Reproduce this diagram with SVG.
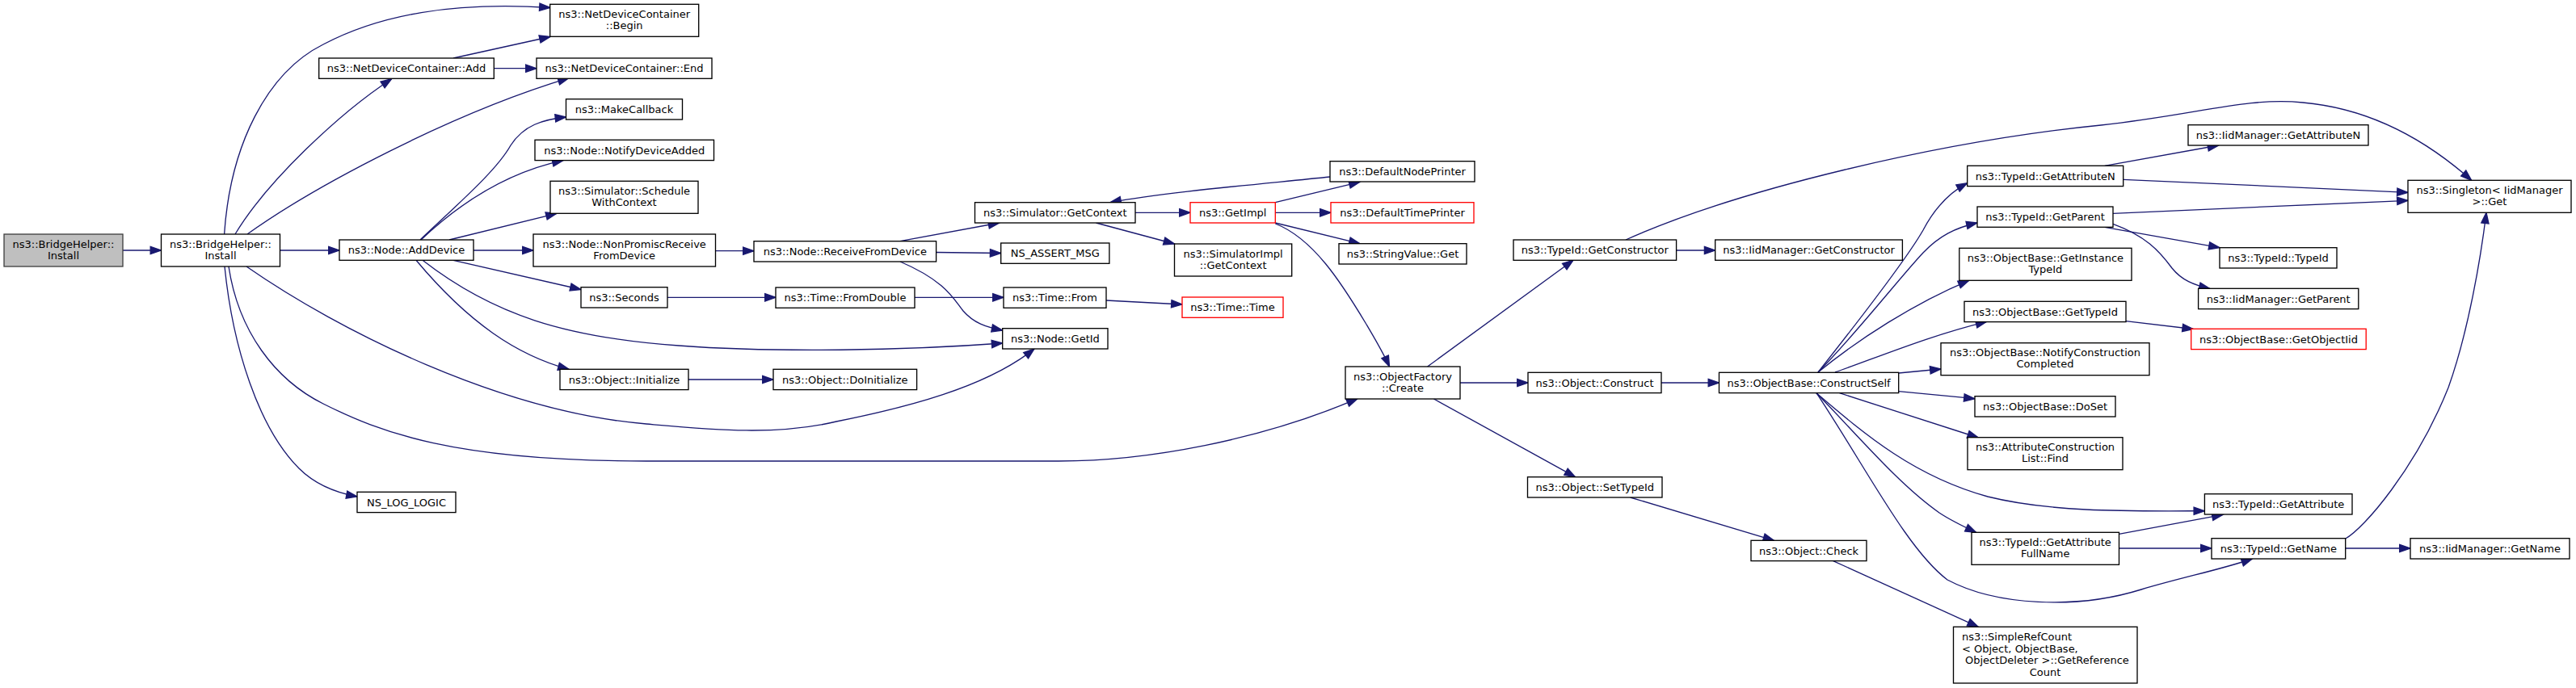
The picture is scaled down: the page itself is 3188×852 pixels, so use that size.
<svg xmlns="http://www.w3.org/2000/svg" width="3188" height="852" viewBox="0 0 3188 852">
<defs>
<style>
.n rect{fill:#ffffff;stroke:#000000;stroke-width:1.33}
.n.red rect{stroke:#ff0000}
.n.root rect{fill:#bfbfbf;stroke:#404040}
text{font-family:"DejaVu Sans","Liberation Sans",sans-serif;font-size:13px;text-anchor:middle;fill:#000000}
text.l{text-anchor:start}
#edges path{fill:none;stroke:#191970;stroke-width:1.33;marker-end:url(#arr)}
</style>
<marker id="arr" markerUnits="userSpaceOnUse" markerWidth="16" markerHeight="12" refX="13.3" refY="0" orient="auto" overflow="visible">
<path d="M0,-4.67L13.3,0L0,4.67z" fill="#191970" stroke="#191970" stroke-width="1.33"/>
</marker>
</defs>
<rect width="3188" height="852" fill="#ffffff"/>
<g id="edges">
<path d="M152,310L199.5,310"/>
<path d="M277.6,290C285,180 330,90 400,55C470,18 560,2 681,9.5"/>
<path d="M291,290C330,225 420,140 484.7,97.7"/>
<path d="M306,290C390,230 560,140 704,96.7"/>
<path d="M346.5,310L420,310"/>
<path d="M278,330C288,430 320,530 370,580C390,600 415,610 442,615"/>
<path d="M283,330C295,410 340,470 400,500C470,535 560,571 800,571L1310,571C1420,571 1560,545 1680,493.7"/>
<path d="M305,330C420,410 620,510 800,525C880,532 960,540 1035,522C1120,505 1220,480 1280,432"/>
<path d="M561,72L681,45.5"/>
<path d="M611.3,84.7L664,84.7"/>
<path d="M520,297C575,245 615,210 632,180C648,155 672,148 700.5,145"/>
<path d="M521,297C560,260 620,215 697,198.6"/>
<path d="M556,297L689,264.3"/>
<path d="M586,310L660,310"/>
<path d="M561,322.3L719,358.5"/>
<path d="M515,322.3C580,400 640,440 704,457.3"/>
<path d="M523,322.3C610,390 700,418 840,428C960,437 1120,434 1240.7,425"/>
<path d="M826,368.3L960,368.3"/>
<path d="M885.5,310.7L933,310.7"/>
<path d="M852,470L957,470"/>
<path d="M1114,298.7L1236.6,276"/>
<path d="M1158.6,312.5L1238.7,313.5"/>
<path d="M1114,324C1170,348 1180,370 1192,385C1205,400 1220,405 1240.7,409"/>
<path d="M1132,368.3L1242,368.3"/>
<path d="M1369,372L1463,377"/>
<path d="M1405,263.3L1473,263.3"/>
<path d="M1356.5,276L1453.5,302"/>
<path d="M1646,219C1560,228 1440,238 1374,250.7"/>
<path d="M1578.3,250.7L1683,225.3"/>
<path d="M1578.3,263.3L1647,263.3"/>
<path d="M1578.3,276L1683,301.7"/>
<path d="M1578.3,277C1625,295 1660,350 1690,400C1703,422 1712,437 1719.5,454"/>
<path d="M1766.6,454L1947,322.3"/>
<path d="M1807,474L1891,474"/>
<path d="M1774.4,494L1949.6,590.7"/>
<path d="M2056,474L2127.5,474"/>
<path d="M2017.6,616L2195.5,669.3"/>
<path d="M2268.7,694.6L2448.3,776.3"/>
<path d="M2074.6,310L2122.7,310"/>
<path d="M2012,297C2150,235 2400,175 2600,155C2720,142 2780,120 2850,127C2940,135 3010,180 3058.7,223.3"/>
<path d="M2250,461C2310,385 2360,320 2380,285C2392,262 2410,240 2434.7,226.7"/>
<path d="M2250,461C2300,410 2350,345 2380,313C2400,292 2420,282 2447,276"/>
<path d="M2250,461C2300,420 2370,375 2436.8,347.3"/>
<path d="M2271,461C2330,440 2390,415 2458.7,398.3"/>
<path d="M2349.7,462L2402,457"/>
<path d="M2349.7,484.7L2444,493.7"/>
<path d="M2276.5,486.7L2448.3,542"/>
<path d="M2248,486.7C2310,540 2370,590 2460,615C2540,635 2640,633 2728.4,632.7"/>
<path d="M2248,486.7C2300,540 2350,600 2400,635C2415,645 2430,652 2445.6,659.3"/>
<path d="M2248,486.7C2310,580 2360,680 2410,718C2470,750 2570,755 2650,730C2700,715 2750,705 2787.4,692"/>
<path d="M2604.8,205.3L2745.6,180"/>
<path d="M2627.7,222.3L2980,238.3"/>
<path d="M2615,264.3L2980,248.3"/>
<path d="M2604.8,281.3L2747,306.7"/>
<path d="M2615,277.3C2655,292 2672,310 2688,332C2700,347 2715,353 2735,357.5"/>
<path d="M2630.9,397.7L2714.3,407.5"/>
<path d="M2902.7,667C2925,655 2990,580 3030,480C3055,410 3070,320 3077,263.3"/>
<path d="M2622.5,661.3L2751,637.3"/>
<path d="M2622.5,679L2737,679"/>
<path d="M2902.7,679L2983,679"/>
</g>
<g id="n_root" class="n root"><rect x="5" y="290" width="147" height="40"/><text x="78.5" y="306.5">ns3::BridgeHelper::</text><text x="78.5" y="320.5">Install</text></g>
<g id="n_install" class="n"><rect x="199.5" y="290" width="147" height="40"/><text x="273" y="306.5">ns3::BridgeHelper::</text><text x="273" y="320.5">Install</text></g>
<g id="n_add" class="n"><rect x="394.7" y="72" width="216.6" height="25.3"/><text x="503" y="89.2">ns3::NetDeviceContainer::Add</text></g>
<g id="n_adddevice" class="n"><rect x="420" y="297" width="166" height="25.3"/><text x="503" y="314.2">ns3::Node::AddDevice</text></g>
<g id="n_nslog" class="n"><rect x="442" y="609.3" width="122" height="25.3"/><text x="503" y="626.5">NS_LOG_LOGIC</text></g>
<g id="n_begin" class="n"><rect x="680.7" y="5.3" width="184" height="40"/><text x="772.7" y="21.8">ns3::NetDeviceContainer</text><text x="772.7" y="35.8">::Begin</text></g>
<g id="n_end" class="n"><rect x="664" y="72" width="217" height="25.3"/><text x="772.5" y="89.2">ns3::NetDeviceContainer::End</text></g>
<g id="n_makecallback" class="n"><rect x="700.5" y="122.7" width="144" height="25.3"/><text x="772.5" y="139.9">ns3::MakeCallback</text></g>
<g id="n_notifydevice" class="n"><rect x="662" y="173.3" width="221.5" height="25.3"/><text x="772.7" y="190.5">ns3::Node::NotifyDeviceAdded</text></g>
<g id="n_schedule" class="n"><rect x="681" y="224.3" width="183" height="40"/><text x="772.5" y="240.8">ns3::Simulator::Schedule</text><text x="772.5" y="254.8">WithContext</text></g>
<g id="n_nonpromisc" class="n"><rect x="660" y="290" width="225.5" height="40"/><text x="772.7" y="306.5">ns3::Node::NonPromiscReceive</text><text x="772.7" y="320.5">FromDevice</text></g>
<g id="n_seconds" class="n"><rect x="719" y="355.7" width="107" height="25.3"/><text x="772.5" y="372.9">ns3::Seconds</text></g>
<g id="n_initialize" class="n"><rect x="693" y="457.3" width="159" height="25.3"/><text x="772.5" y="474.5">ns3::Object::Initialize</text></g>
<g id="n_receive" class="n"><rect x="933" y="298.7" width="225.6" height="25.3"/><text x="1045.8" y="315.9">ns3::Node::ReceiveFromDevice</text></g>
<g id="n_fromdouble" class="n"><rect x="960" y="356" width="172" height="25.3"/><text x="1046" y="373.2">ns3::Time::FromDouble</text></g>
<g id="n_doinitialize" class="n"><rect x="957" y="457.3" width="177.6" height="25.3"/><text x="1045.8" y="474.5">ns3::Object::DoInitialize</text></g>
<g id="n_simgetcontext" class="n"><rect x="1206.5" y="250.7" width="198.5" height="25.3"/><text x="1305.8" y="267.9">ns3::Simulator::GetContext</text></g>
<g id="n_assert" class="n"><rect x="1238.7" y="301" width="134.2" height="25.3"/><text x="1305.8" y="318.2">NS_ASSERT_MSG</text></g>
<g id="n_timefrom" class="n"><rect x="1242" y="356" width="127" height="25.3"/><text x="1305.5" y="373.2">ns3::Time::From</text></g>
<g id="n_getid" class="n"><rect x="1240.7" y="406.7" width="130.3" height="25.3"/><text x="1305.9" y="423.9">ns3::Node::GetId</text></g>
<g id="n_getimpl" class="n red"><rect x="1473" y="250.7" width="105.3" height="25.3"/><text x="1525.7" y="267.9">ns3::GetImpl</text></g>
<g id="n_simimpl" class="n"><rect x="1453.5" y="302" width="145.2" height="40"/><text x="1526.1" y="318.5">ns3::SimulatorImpl</text><text x="1526.1" y="332.5">::GetContext</text></g>
<g id="n_timetime" class="n red"><rect x="1463" y="368" width="125" height="25.3"/><text x="1525.5" y="385.2">ns3::Time::Time</text></g>
<g id="n_dnp" class="n"><rect x="1646" y="199.7" width="179" height="25.3"/><text x="1735.5" y="216.9">ns3::DefaultNodePrinter</text></g>
<g id="n_dtp" class="n red"><rect x="1647" y="250.7" width="177" height="25.3"/><text x="1735.5" y="267.9">ns3::DefaultTimePrinter</text></g>
<g id="n_stringvalue" class="n"><rect x="1657" y="301.7" width="158" height="25.3"/><text x="1736" y="318.9">ns3::StringValue::Get</text></g>
<g id="n_create" class="n"><rect x="1665" y="454" width="142" height="40"/><text x="1736" y="470.5">ns3::ObjectFactory</text><text x="1736" y="484.5">::Create</text></g>
<g id="n_getconstructor" class="n"><rect x="1873" y="297" width="201.6" height="25.3"/><text x="1973.8" y="314.2">ns3::TypeId::GetConstructor</text></g>
<g id="n_construct" class="n"><rect x="1891" y="461.3" width="165" height="25.3"/><text x="1973.5" y="478.5">ns3::Object::Construct</text></g>
<g id="n_settypeid" class="n"><rect x="1890.5" y="590.7" width="166.5" height="25.3"/><text x="1973.8" y="607.9">ns3::Object::SetTypeId</text></g>
<g id="n_iidconstructor" class="n"><rect x="2122.7" y="297" width="231.7" height="25.3"/><text x="2238.5" y="314.2">ns3::IidManager::GetConstructor</text></g>
<g id="n_constructself" class="n"><rect x="2127.5" y="461.3" width="222.2" height="25.3"/><text x="2238.6" y="478.5">ns3::ObjectBase::ConstructSelf</text></g>
<g id="n_check" class="n"><rect x="2167" y="669.3" width="143" height="25.3"/><text x="2238.5" y="686.5">ns3::Object::Check</text></g>
<g id="n_iidattributen" class="n"><rect x="2708" y="154.7" width="223" height="25.3"/><text x="2819.5" y="171.9">ns3::IidManager::GetAttributeN</text></g>
<g id="n_attributen" class="n"><rect x="2434.7" y="205.3" width="193" height="25.3"/><text x="2531.2" y="222.5">ns3::TypeId::GetAttributeN</text></g>
<g id="n_getparent" class="n"><rect x="2447" y="256" width="168" height="25.3"/><text x="2531" y="273.2">ns3::TypeId::GetParent</text></g>
<g id="n_instancetypeid" class="n"><rect x="2424.8" y="307.3" width="213.2" height="40"/><text x="2531.4" y="323.8">ns3::ObjectBase::GetInstance</text><text x="2531.4" y="337.8">TypeId</text></g>
<g id="n_gettypeid" class="n"><rect x="2431" y="373.3" width="200" height="25.3"/><text x="2531" y="390.5">ns3::ObjectBase::GetTypeId</text></g>
<g id="n_notifycc" class="n"><rect x="2402" y="424.7" width="258" height="40"/><text x="2531" y="441.2">ns3::ObjectBase::NotifyConstruction</text><text x="2531" y="455.2">Completed</text></g>
<g id="n_doset" class="n"><rect x="2444" y="490.7" width="174" height="25.3"/><text x="2531" y="507.9">ns3::ObjectBase::DoSet</text></g>
<g id="n_find" class="n"><rect x="2435" y="541.7" width="192" height="40"/><text x="2531" y="558.2">ns3::AttributeConstruction</text><text x="2531" y="572.2">List::Find</text></g>
<g id="n_fullname" class="n"><rect x="2440" y="659.3" width="182.5" height="40"/><text x="2531.2" y="675.8">ns3::TypeId::GetAttribute</text><text x="2531.2" y="689.8">FullName</text></g>
<g id="n_simplerefcount" class="n"><rect x="2417.5" y="776.3" width="227.5" height="69.7"/><text class="l" x="2428" y="793">ns3::SimpleRefCount</text><text class="l" x="2428" y="807.5">&lt; Object, ObjectBase,</text><text class="l" x="2432" y="822">ObjectDeleter &gt;::GetReference</text><text x="2531" y="836.5">Count</text></g>
<g id="n_typeidtypeid" class="n"><rect x="2747" y="306.7" width="145" height="25.3"/><text x="2819.5" y="323.9">ns3::TypeId::TypeId</text></g>
<g id="n_iidparent" class="n"><rect x="2720.6" y="357.3" width="198.2" height="25.3"/><text x="2819.7" y="374.5">ns3::IidManager::GetParent</text></g>
<g id="n_objectiid" class="n red"><rect x="2711.7" y="407.3" width="216.5" height="25.3"/><text x="2820" y="424.5">ns3::ObjectBase::GetObjectIid</text></g>
<g id="n_getattribute" class="n"><rect x="2728.4" y="611.7" width="182.6" height="25.3"/><text x="2819.7" y="628.9">ns3::TypeId::GetAttribute</text></g>
<g id="n_getname" class="n"><rect x="2737" y="666.7" width="165.7" height="25.3"/><text x="2819.9" y="683.9">ns3::TypeId::GetName</text></g>
<g id="n_singleton" class="n"><rect x="2980" y="223.3" width="202" height="40"/><text x="3081" y="239.8">ns3::Singleton&lt; IidManager</text><text x="3081" y="253.8">&gt;::Get</text></g>
<g id="n_iidname" class="n"><rect x="2983" y="666.7" width="197" height="25.3"/><text x="3081.5" y="683.9">ns3::IidManager::GetName</text></g>
</svg>
